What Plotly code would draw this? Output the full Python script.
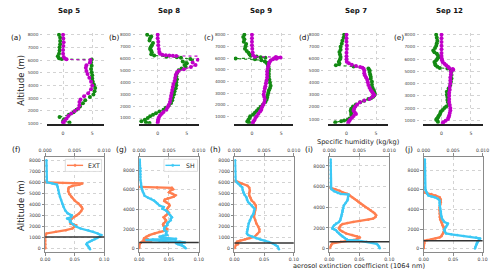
import plotly.graph_objects as go

# ---------------- DATA ----------------
top_dates = ["Sep 5", "Sep 8", "Sep 9", "Sep 7", "Sep 12"]
top_letters = ["(a)", "(b)", "(c)", "(d)", "(e)"]
bot_letters = ["(f)", "(g)", "(h)", "(i)", "(j)"]

# top row: magenta and green profiles (altitude m, humidity)
a_mag_alt = [8000,7700,7400,7100,6800,6500,6250,6120,6060,6000,5800,5600,5400,5150,4900,4600,4300,4000,3700,3400,3150,2900,2700,2450,2200,2000,1800,1600,1400,1250,1120,1040]
a_mag_q = [0.0,0.05,0.1,0.05,0.0,0.0,0.1,0.3,0.6,4.7,4.6,4.0,3.9,4.0,4.2,4.5,4.8,5.0,4.8,4.3,3.6,3.0,2.8,2.8,2.6,2.0,1.4,0.9,0.6,0.3,0.0,0.1]
a_grn_alt = [8000,7750,7500,7250,7000,6750,6500,6300,6150,6080,6050,5800,5550,5300,5050,4800,4550,4300,4050,3800,3550,3300,3100,2850,2600,2350,2100,1900,1700,1520,1350,1200,1100]
a_grn_q = [-0.7,-0.5,-0.5,-0.5,-0.6,-0.6,-0.7,-0.9,-0.7,-0.2,4.9,4.8,4.9,4.8,4.9,5.0,5.0,5.1,5.3,5.5,5.4,5.2,4.6,3.8,3.4,2.9,2.3,1.8,1.0,-0.6,0.2,0.0,1.1]

b_mag_alt = [8000,7700,7400,7100,6800,6550,6400,6310,6270,6250,6230,6210,6190,5900,5650,5450,5280,5100,4950,4800,4600,4350,4100,3850,3600,3350,3100,2850,2600,2350,2100,1900,1700,1500,1350,1200,1050,900,750,620]
b_mag_q = [0.0,0.0,0.1,0.1,0.2,0.3,0.4,0.8,1.4,2.0,2.6,3.2,7.6,6.9,6.0,6.5,5.7,4.5,3.6,3.3,3.1,3.0,2.9,2.7,2.6,2.5,2.4,2.3,2.2,2.1,1.9,1.7,1.5,1.0,0.7,0.4,0.2,0.1,0.05,0.0]
b_grn_alt = [8000,7850,7700,7500,7300,7100,6950,6800,6650,6500,6350,6250,6150,6100,6050,5950,5900,5750,5600,5450,5300,5150,5000,4750,4500,4250,4000,3750,3500,3250,3000,2750,2500,2250,2050,1850,1700,1550,1400,1280,1150,1000,860,720,650,590]
b_grn_q = [-1.8,-1.1,-1.3,-1.4,-0.8,-1.0,-1.2,-1.3,-1.1,-1.0,-1.1,-0.6,1.5,3.3,4.0,5.6,7.5,4.3,5.0,4.6,4.8,4.1,3.6,3.3,3.2,3.3,3.2,3.2,3.1,2.9,2.8,2.6,2.5,2.3,1.9,1.4,1.0,0.3,-0.3,-0.8,-1.3,-1.7,-2.2,-2.8,-2.0,-1.4]

c_mag_alt = [8000,7700,7400,7100,6800,6500,6250,6120,6090,6060,6020,5980,5940,5900,5800,5650,5500,5300,5100,4850,4600,4350,4100,3850,3600,3400,3150,2900,2700,2450,2200,2000,1800,1600,1450,1250,1050,900,700,550,440]
c_mag_q = [0.0,0.0,0.0,0.0,0.05,0.1,0.2,0.5,4.1,4.9,4.4,3.8,4.2,3.6,3.2,3.0,2.9,2.8,2.7,2.6,2.6,2.6,2.5,2.4,2.3,2.2,2.1,2.0,2.1,2.2,2.1,1.9,1.7,1.6,1.4,1.1,0.8,0.6,0.4,0.2,0.1]
c_grn_alt = [8000,7800,7600,7400,7200,7000,6800,6600,6450,6300,6200,6130,6080,6020,5960,5900,5820,5720,5600,5450,5300,5100,4900,4650,4400,4150,3900,3650,3450,3250,3050,2850,2650,2450,2250,2050,1850,1650,1500,1350,1200,1050,900,750,600,520]
c_grn_q = [-1.3,-1.5,-1.3,-1.4,-1.0,-1.1,-1.2,-0.9,-0.6,-0.4,-0.2,0.8,1.5,2.3,-2.8,0.5,1.6,2.2,2.5,2.7,2.8,2.9,2.9,2.9,2.9,3.0,3.1,3.2,3.1,2.9,2.8,2.7,2.6,2.5,2.3,1.9,1.5,1.1,0.8,0.5,0.2,-0.3,-0.4,-0.6,-0.8,-0.5]

d_mag_alt = [8000,7700,7400,7100,6800,6500,6200,5950,5750,5620,5510,5400,5320,5250,5180,5000,4800,4640,4450,4250,4050,3820,3600,3400,3270,3130,3000,2850,2670,2530,2390,2200,2040,1860,1680,1550,1410,1250,1100,950,810,700]
d_mag_q = [0.0,0.0,0.0,0.05,0.05,0.0,0.0,0.0,0.05,0.4,0.9,1.6,2.3,2.7,2.9,3.0,3.0,3.1,3.3,3.5,3.6,3.7,3.9,4.1,4.3,4.5,4.7,4.4,3.9,3.0,2.3,1.8,1.5,1.3,1.2,1.4,1.6,1.2,0.9,0.6,0.4,0.3]
d_grn_alt = [8000,7750,7500,7250,7000,6750,6550,6350,6150,5950,5750,5600,5460,5350,5200,5050,4900,4700,4500,4350,4100,3850,3600,3400,3250,3100,2950,2850,2750,2670,2520,2390,2200,2040,1860,1680,1520,1360,1250,1140,1040,950,880,810,730]
d_grn_q = [-0.4,-0.5,-0.7,-0.8,-1.0,-1.0,-1.2,-1.1,-1.0,-1.1,-1.3,-1.2,-1.8,1.2,3.7,3.9,3.9,4.0,4.1,4.1,4.3,4.3,4.4,4.6,4.7,4.8,4.7,4.5,4.2,3.7,3.0,2.3,1.6,1.1,0.8,0.7,0.8,0.8,0.9,0.9,0.5,0.2,-0.4,-0.9,-1.9]

e_mag_alt = [8000,7700,7400,7100,6800,6500,6250,6030,5900,5770,5630,5500,5380,5280,5200,5130,4960,4750,4500,4250,4000,3750,3500,3250,3000,2750,2500,2250,2000,1800,1600,1400,1250,1100,960,850,780]
e_mag_q = [0.0,0.0,0.0,0.0,0.0,0.0,0.0,0.05,0.1,0.2,0.5,0.8,1.1,1.3,1.9,2.0,1.6,1.6,1.5,1.5,1.5,1.4,1.4,1.3,1.3,1.3,1.3,1.4,1.5,1.5,1.4,1.3,1.2,1.1,0.7,0.3,0.2]
e_grn_alt = [8000,7750,7500,7300,7100,6900,6710,6570,6430,6300,6150,6030,5900,5770,5630,5500,5380,5280,5230,5100,4960,4700,4420,4150,3880,3600,3340,3100,2900,2670,2470,2270,2130,2000,1850,1730,1600,1460,1350,1240,1140,1050,960,870]
e_grn_q = [-0.9,-0.8,-0.7,-0.8,-0.9,-1.1,-1.4,-1.2,-0.8,-0.6,-0.5,-0.7,-0.9,-1.2,-1.1,-1.0,-0.7,-0.3,1.0,1.6,1.7,1.7,1.7,1.6,1.5,1.2,0.9,0.9,1.0,1.0,1.1,1.2,0.8,0.5,0.2,-0.1,-0.2,-0.3,-0.5,-0.6,-0.8,-0.9,-0.7,-0.6]

# bottom row: SH (kg/kg) and EXT profiles
f_sh_alt = [8000,7500,7000,6500,6200,6000,5900,5790,5600,5300,5000,4700,4400,4060,3800,3460,3200,3010,2850,2720,2550,2420,2200,1970,1820,1670,1520,1370,1220,1070,950,840,730,630,500,390,280,180,60,-60]
f_sh = [0.0002,0.0002,0.0002,0.0002,0.0002,0.0003,0.0012,0.002,0.0021,0.0022,0.0023,0.0025,0.0027,0.0029,0.0031,0.0034,0.0038,0.0045,0.0044,0.0037,0.0043,0.0042,0.0047,0.0053,0.006,0.0073,0.0081,0.0089,0.0095,0.0092,0.0088,0.0084,0.0079,0.0075,0.0071,0.007,0.0072,0.0073,0.0075,0.0076]
f_ext_alt = [6000,5950,5900,5800,5680,5540,5390,5200,4940,4650,4350,4100,3900,3750,3600,3400,3150,3000,2860,2710,2550,2400,2260,2180,2110,1960,1820,1670,1520,1370,1200,1000,700,400,100,0]
f_ext = [0.0,0.03,0.063,0.058,0.046,0.040,0.039,0.039,0.041,0.045,0.050,0.056,0.060,0.062,0.063,0.061,0.057,0.053,0.049,0.045,0.043,0.043,0.043,0.048,0.052,0.049,0.046,0.035,0.018,0.002,0.0,0.0,0.0,0.0,0.0,0.0]

g_sh_alt = [9100,8800,8500,8200,7900,7600,7300,7000,6700,6400,6200,6000,5800,5600,5400,5200,5080,4900,4740,4570,4400,4240,4070,3900,3700,3550,3400,3200,3050,2890,2700,2550,2390,2200,2050,1880,1720,1550,1400,1300,1210,1100,1000,940,870,810,760,700,620,540,450,350,250,150,30]
g_sh = [0.0001,0.0001,0.0001,0.0002,0.0002,0.0002,0.0002,0.0002,0.0003,0.0003,0.0004,0.0005,0.0006,0.0008,0.0009,0.0015,0.002,0.0025,0.0028,0.0031,0.0034,0.0041,0.0039,0.0045,0.0048,0.005,0.0052,0.0055,0.0053,0.0053,0.0049,0.0047,0.0047,0.0043,0.0042,0.0042,0.0046,0.0045,0.0047,0.004,0.0034,0.0045,0.0062,0.0023,0.0012,0.0034,0.0061,0.0068,0.0077,0.0062,0.0065,0.0072,0.0074,0.0076,0.0078]
g_ext_alt = [6300,6250,6200,6050,5900,5750,5600,5450,5300,5150,5000,4850,4700,4550,4400,4250,4100,3950,3800,3650,3500,3350,3200,3050,2900,2750,2600,2450,2300,2150,2000,1850,1720,1550,1370,1200,1050,950,870,780,700,600,500,350,200,50]
g_ext = [0.0,0.03,0.055,0.057,0.052,0.05,0.056,0.061,0.058,0.048,0.043,0.042,0.046,0.05,0.051,0.049,0.047,0.046,0.048,0.05,0.047,0.044,0.041,0.043,0.045,0.044,0.041,0.04,0.041,0.044,0.047,0.045,0.034,0.026,0.017,0.012,0.008,0.015,0.007,0.02,0.005,0.003,0.001,0.0,0.0,0.0]

h_sh_alt = [8000,7500,7000,6500,6150,6000,5850,5700,5550,5300,5100,4880,4660,4430,4210,4060,3910,3760,3610,3400,3160,2900,2570,2270,1970,1750,1520,1370,1220,1070,930,820,720,600,480,330,180,-60]
h_sh = [0.0001,0.0001,0.0001,0.0001,0.0002,0.0004,0.0007,0.001,0.0013,0.0014,0.0015,0.0017,0.002,0.0021,0.0023,0.0026,0.0029,0.0031,0.0034,0.0033,0.0032,0.0029,0.0026,0.0024,0.0023,0.0022,0.0021,0.0021,0.0023,0.003,0.0037,0.0044,0.0051,0.0058,0.0064,0.0069,0.0073,0.0075]
h_ext_alt = [6150,6050,5950,5850,5700,5500,5250,5050,4810,4600,4360,4150,3910,3700,3500,3310,3100,2870,2600,2270,2000,1750,1520,1300,1070,950,840,740,630,560,480,400,300,150,30]
h_ext = [0.0,0.005,0.008,0.012,0.022,0.025,0.026,0.025,0.025,0.027,0.029,0.033,0.036,0.036,0.035,0.034,0.033,0.033,0.035,0.037,0.04,0.042,0.042,0.038,0.034,0.026,0.018,0.01,0.004,0.006,0.002,0.006,0.002,0.001,0.0]

i_sh_alt = [8630,8300,8000,7600,7200,6800,6400,6080,5900,5760,5550,5380,5290,5220,5000,4800,4650,4400,4170,3900,3700,3540,3300,3100,2900,2750,2580,2420,2260,2100,1940,1860,1780,1620,1460,1300,1150,1000,900,830,760,650,570,450,350,200,30]
i_sh = [0.0002,0.0002,0.0002,0.0002,0.0002,0.0002,0.0002,0.0002,0.0002,0.0003,0.0008,0.0014,0.0019,0.0032,0.0031,0.0031,0.003,0.0027,0.0024,0.0023,0.0022,0.0022,0.0021,0.002,0.0019,0.0018,0.0016,0.0011,0.0008,0.0006,0.0005,0.0008,0.0011,0.0013,0.0016,0.0019,0.0022,0.0026,0.0029,0.003,0.0049,0.0062,0.0073,0.0079,0.0081,0.0083,0.0084]
i_ext_alt = [5920,5750,5600,5450,5290,5130,4970,4800,4650,4490,4330,4170,4010,3850,3700,3530,3380,3220,3060,2900,2800,2680,2580,2480,2370,2260,2100,1940,1780,1620,1460,1310,1200,1080,950,830,750,670,590,510,350,190,30]
i_ext = [0.0,0.01,0.017,0.022,0.03,0.034,0.038,0.042,0.046,0.049,0.052,0.056,0.06,0.065,0.069,0.073,0.076,0.078,0.077,0.073,0.065,0.051,0.04,0.03,0.022,0.019,0.017,0.016,0.018,0.022,0.028,0.038,0.046,0.051,0.047,0.041,0.03,0.019,0.01,0.005,0.003,0.002,0.0]

j_sh_alt = [9100,8700,8300,7900,7500,7100,6700,6250,6000,5750,5580,5410,5320,5240,5080,4910,4660,4400,4100,3800,3560,3300,3060,2890,2720,2550,2400,2220,2050,1880,1720,1550,1460,1380,1290,1210,1120,1040,920,810,680,540,370,200,0]
j_sh = [0.0002,0.0002,0.0002,0.0002,0.0002,0.0002,0.0002,0.0002,0.0003,0.0005,0.0006,0.0008,0.0013,0.0019,0.0024,0.0027,0.0027,0.0027,0.0028,0.0029,0.0029,0.003,0.0031,0.0033,0.0035,0.0041,0.004,0.0038,0.0036,0.0035,0.0036,0.0038,0.0047,0.0057,0.0068,0.0079,0.0089,0.0096,0.0094,0.0093,0.0091,0.009,0.0089,0.0088,0.0087]
j_ext_alt = [5750,5660,5580,5410,5240,5000,4740,4500,4200,3900,3560,3230,2980,2720,2550,2390,2220,2050,1880,1710,1550,1380,1260,1140,1040,940,870,810,700,540,350,150,30]
j_ext = [0.0,0.006,0.013,0.02,0.027,0.029,0.029,0.028,0.027,0.027,0.027,0.027,0.028,0.03,0.031,0.032,0.034,0.035,0.035,0.034,0.033,0.031,0.03,0.027,0.02,0.013,0.006,0.002,0.001,0.001,0.0,0.0,0.0]

pbl_heights = [1050, 630, 500, 670, 810]

top_tick_vals = [0, 5]
alt_ticks_top = [1000, 2000, 3000, 4000, 5000, 6000, 7000, 8000]
ext_ticks = [0.0, 0.05, 0.10]
sh_ticks = [0.0, 0.005, 0.010]
bot_dticks = [1000, 2000, 1000, 2000, 2000]
legend_names = ["EXT", "SH"]

top_series = [
    (a_grn_alt, a_grn_q, a_mag_alt, a_mag_q),
    (b_grn_alt, b_grn_q, b_mag_alt, b_mag_q),
    (c_grn_alt, c_grn_q, c_mag_alt, c_mag_q),
    (d_grn_alt, d_grn_q, d_mag_alt, d_mag_q),
    (e_grn_alt, e_grn_q, e_mag_alt, e_mag_q),
]
bot_series = [
    (f_ext_alt, f_ext, f_sh_alt, f_sh),
    (g_ext_alt, g_ext, g_sh_alt, g_sh),
    (h_ext_alt, h_ext, h_sh_alt, h_sh),
    (i_ext_alt, i_ext, i_sh_alt, i_sh),
    (j_ext_alt, j_ext, j_sh_alt, j_sh),
]

# ---------------- LAYOUT GEOMETRY ----------------
W, H = 500, 277
def fx(px): return px / W
def fy(py): return 1 - py / H

FONT = "DejaVu Sans"
MAG = "#c000c8"
GRN = "#138a13"
ORG = "#ff7f50"
CYN = "#3cc8f5"
GRID = "#d3d3d3"
TICKC = "#444444"

top_x_px = [(40.7, 100), (135.7, 197.7), (233.3, 294), (330, 392.3), (428.3, 489.3)]
top_xrange = [(-2.83, 7.05), (-3.22, 7.12), (-3.12, 7.0), (-3.17, 7.07), (-3.09, 6.98)]
top_yrange = [(1000, 8156), (525, 8166), (411, 8169), (617, 8164), (730, 8162)]
top_y_px = (32, 124)

bot_x_px = [(39.3, 100), (136, 197.3), (234, 295), (331.7, 393.3), (428.7, 489.3)]
bot_yrange = [(-332, 8297), (-374, 9354), (-332, 8297), (-354, 8861), (-374, 9354)]
bot_y_px = (157.7, 254)

fig = go.Figure()
layout = dict(
    width=W, height=H, margin=dict(l=0, r=0, t=0, b=0),
    paper_bgcolor="white", plot_bgcolor="white",
    font=dict(family=FONT, color="#222"),
    showlegend=False,
)

tickfont = dict(family=FONT, size=4.6, color=TICKC)
tickfont_top_y = dict(family=FONT, size=4.2, color=TICKC)

for i in range(5):
    k = i + 1
    ga, gq, ma, mq = top_series[i]
    fig.add_trace(go.Scatter(
        x=gq, y=ga, xaxis=f"x{k}", yaxis=f"y{k}", mode="lines+markers",
        line=dict(color=GRN, width=1.1, dash="dot"),
        marker=dict(color=GRN, size=4)))
    fig.add_trace(go.Scatter(
        x=mq, y=ma, xaxis=f"x{k}", yaxis=f"y{k}", mode="lines+markers",
        line=dict(color=MAG, width=1.1, dash="dot"),
        marker=dict(color=MAG, size=4)))
    x0, x1 = top_x_px[i]
    layout[f"xaxis{k}"] = dict(
        domain=[fx(x0), fx(x1)], range=list(top_xrange[i]), anchor=f"y{k}",
        tickvals=top_tick_vals, showgrid=True, gridcolor=GRID, griddash="dot", gridwidth=0.8,
        zeroline=False, showline=True, linecolor="#222", linewidth=1.5,
        ticks="outside", ticklen=3, tickcolor="rgba(0,0,0,0)", tickfont=tickfont,
        ticklabelstandoff=1)
    layout[f"yaxis{k}"] = dict(
        domain=[fy(top_y_px[1]), fy(top_y_px[0])], range=list(top_yrange[i]),
        anchor="free", position=fx(x0 - 4.5),
        tickvals=alt_ticks_top, showgrid=True, gridcolor=GRID, griddash="dot", gridwidth=0.8,
        zeroline=False, showline=False, ticks="outside", ticklen=2, tickcolor="#c8c8c8",
        tickfont=tickfont_top_y, ticklabelstandoff=1)

shapes = []
for i in range(5):
    k = 6 + i
    ks = 11 + i
    ea, ev, sa, sv = bot_series[i]
    fig.add_trace(go.Scatter(
        x=ev, y=ea, xaxis=f"x{k}", yaxis=f"y{k}", mode="lines+markers", name=legend_names[0],
        line=dict(color=ORG, width=2.3), marker=dict(color=ORG, size=2.5)))
    fig.add_trace(go.Scatter(
        x=sv, y=sa, xaxis=f"x{ks}", yaxis=f"y{k}", mode="lines+markers", name=legend_names[1],
        line=dict(color=CYN, width=2.3), marker=dict(color=CYN, size=2.5)))
    x0, x1 = bot_x_px[i]
    layout[f"xaxis{k}"] = dict(
        domain=[fx(x0), fx(x1)], range=[0, 0.1], anchor=f"y{k}",
        tickvals=ext_ticks, tickformat=".2f", showgrid=True, gridcolor=GRID, griddash="dot",
        gridwidth=0.8, zeroline=False, showline=True, linecolor="#8a8a8a", linewidth=1,
        ticks="outside", ticklen=2.5, tickcolor="#8a8a8a", tickfont=tickfont)
    layout[f"xaxis{ks}"] = dict(
        range=[0, 0.01], overlaying=f"x{k}", anchor=f"y{k}", side="top",
        tickvals=sh_ticks, tickformat=".3f", showgrid=False, zeroline=False,
        showline=True, linecolor="#8a8a8a", linewidth=1,
        ticks="outside", ticklen=2.5, tickcolor="#8a8a8a", tickfont=tickfont)
    layout[f"yaxis{k}"] = dict(
        domain=[fy(bot_y_px[1]), fy(bot_y_px[0])], range=list(bot_yrange[i]), anchor=f"x{k}",
        tick0=0, dtick=bot_dticks[i], showgrid=True, gridcolor=GRID, griddash="dot",
        gridwidth=0.8, zeroline=False, showline=True, mirror=True,
        linecolor="#8a8a8a", linewidth=1, ticks="outside", ticklen=2.5, tickcolor="#8a8a8a",
        tickfont=tickfont)
    shapes.append(dict(type="line", xref=f"x{k} domain", x0=0, x1=1,
                       yref=f"y{k}", y0=pbl_heights[i], y1=pbl_heights[i],
                       line=dict(color="#333333", width=1.5)))

# compact legend boxes (EXT in panel f, SH in panel g)
ann = []
legend_boxes = [
    dict(box=(60, 97.3, 160, 172.3), line=(61.7, 78.3), text_x=81.7, color=ORG, label=legend_names[0]),
    dict(box=(161.5, 196, 160, 172.3), line=(163, 178), text_x=182.2, color=CYN, label=legend_names[1]),
]
for lb in legend_boxes:
    bx0, bx1, by0, by1 = lb["box"]
    cy = (by0 + by1) / 2
    shapes.append(dict(type="rect", xref="paper", yref="paper", x0=fx(bx0), x1=fx(bx1),
                       y0=fy(by1), y1=fy(by0), line=dict(color="#d6d6d6", width=0.8),
                       fillcolor="rgba(255,255,255,0.9)"))
    lx0, lx1 = lb["line"]
    shapes.append(dict(type="line", xref="paper", yref="paper", x0=fx(lx0), x1=fx(lx1),
                       y0=fy(cy), y1=fy(cy), line=dict(color=lb["color"], width=1.4)))
    mx = (lx0 + lx1) / 2
    shapes.append(dict(type="circle", xref="paper", yref="paper", x0=fx(mx - 1.2), x1=fx(mx + 1.2),
                       y0=fy(cy + 1.2), y1=fy(cy - 1.2), line=dict(color=lb["color"], width=0.5),
                       fillcolor=lb["color"]))
    ann.append(dict(text=lb["label"], x=fx(lb["text_x"]), y=fy(cy), xref="paper", yref="paper",
                    showarrow=False, xanchor="left", yanchor="middle",
                    font=dict(family=FONT, size=6.2, color="#222")))

layout["shapes"] = shapes

top_title_x = [64, 167, 261.7, 359, 455]
for i in range(5):
    ann.append(dict(text=f"<b>{top_dates[i]}</b>", x=fx(top_title_x[i]), y=fy(10), xref="paper", yref="paper",
                    showarrow=False, xanchor="center", yanchor="middle",
                    font=dict(family=FONT, size=7, color="#111")))
top_letter_x = [9.5, 110.5, 208, 305.5, 403]
for i in range(5):
    ann.append(dict(text=top_letters[i], x=fx(top_letter_x[i]), y=fy(37), xref="paper", yref="paper",
                    showarrow=False, xanchor="center", yanchor="middle",
                    font=dict(family=FONT, size=7.3, color="#111")))
bot_letter_x = [10, 117.3, 214, 310.7, 413.3]
for i in range(5):
    ann.append(dict(text=bot_letters[i], x=fx(bot_letter_x[i]), y=fy(150), xref="paper", yref="paper",
                    showarrow=False, xanchor="center", yanchor="middle",
                    font=dict(family=FONT, size=7.5, color="#111")))
for yy in (80, 206.7):
    ann.append(dict(text="Altitude (m)", x=fx(15), y=fy(yy), xref="paper", yref="paper",
                    showarrow=False, textangle=-90, xanchor="center", yanchor="middle",
                    font=dict(family=FONT, size=8.5, color="#222")))
ann.append(dict(text="Specific humidity (kg/kg)", x=fx(361), y=fy(142.3), xref="paper", yref="paper",
                showarrow=False, xanchor="center", yanchor="middle",
                font=dict(family=FONT, size=6.6, color="#222")))
ann.append(dict(text="aerosol extinction coefficient (1064 nm)", x=fx(362), y=fy(268.3), xref="paper",
                yref="paper", showarrow=False, xanchor="center", yanchor="middle",
                font=dict(family=FONT, size=6.6, color="#222")))
layout["annotations"] = ann

fig.update_layout(**layout)
fig.write_html("out.html", config={"displayModeBar": False},
               post_script="document.body.style.margin='0px';")
